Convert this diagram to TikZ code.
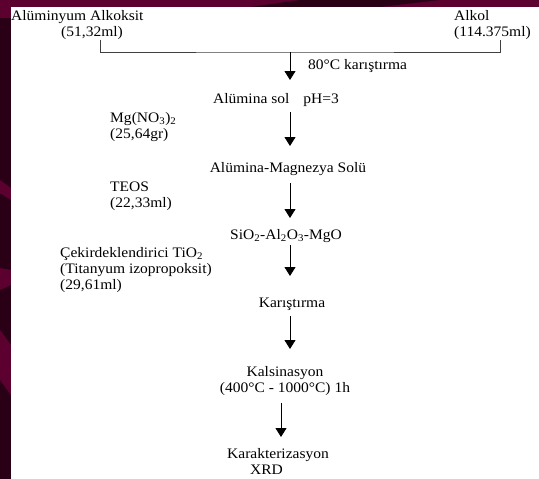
\documentclass[tikz,border=0pt]{standalone}
\usepackage{fontspec}
\setmainfont{Liberation Serif}[FakeStretch=1.07]
\usetikzlibrary{positioning,arrows.meta}

\definecolor{framedark}{HTML}{2A0017}
\definecolor{framewine}{HTML}{5C0030}

\tikzset{
  txt/.style={inner sep=0pt, font=\fontsize{14.5}{16}\selectfont},
  stage/.style={txt, anchor=north, text height=10pt, text depth=3pt},
  note/.style={txt, anchor=north west, align=left},
  flow/.style={-{Triangle[width=11pt,length=9pt]}, line width=0.8pt},
  feed/.style={line width=0.8pt, black!75}
}

\begin{document}
\begin{tikzpicture}[x=1pt, y=-1pt]
% ---- slide frame ----
\fill[framedark] (0,0) rectangle (539,479);
\fill[framewine] (0,0) rectangle (539,7);
\fill[framedark] (250,7) -- (300,0) -- (440,0) -- (380,7) -- cycle;
\fill[framewine] (0,0) rectangle (11,18);
\fill[framewine] (0,180) -- (11,188) -- (11,200) -- (0,193) -- cycle;
\fill[framewine] (0,268) -- (11,270) -- (11,285) -- (0,290) -- cycle;
\fill[framewine] (0,330) -- (11,345) -- (11,395) -- (0,380) -- cycle;
\fill[white] (11,7) rectangle (539,479);

% ---- starting materials ----
\node[note] (alk1) at (11,10) {Alüminyum Alkoksit};
\node[txt, anchor=north] (alk2) at (92,26) {(51,32ml)};
\node[note] (alc) at (454,10) {Alkol\\(114.375ml)};
\coordinate (mix) at (290,52);
\coordinate (ax) at (290,0);
\coordinate (axb) at (281,0);
\draw[feed] ([xshift=8pt]alk2.south) |- (mix) -| ([xshift=8pt]alc.south);
\node[txt, anchor=north west] (heat) at (308,59) {80°C karıştırma};

% ---- main line ----
\node[stage] (sol) at (276,93) {Alümina sol\hspace{14pt}pH=3};
\node[stage] (mgsol) at (288,162) {Alümina-Magnezya Solü};
\node[stage] (oxide) at (286,229) {SiO\textsubscript{2}-Al\textsubscript{2}O\textsubscript{3}-MgO};
\node[stage] (mix2) at (292,297) {Karıştırma};
\node[txt, anchor=north, align=center] (calc) at (285,366) {Kalsinasyon\\(400°C - 1000°C) 1h};
\node[txt, anchor=north, align=left] (xrd) at (278,448) {Karakterizasyon\\\hspace*{23pt}XRD};

% ---- additions ----
\node[note] (mgno) at (110,112) {Mg(NO\textsubscript{3})\textsubscript{2}\\(25,64gr)};
\node[note] (teos) at (110,182) {TEOS\\(22,33ml)};
\node[note] (tio) at (60,247) {Çekirdeklendirici TiO\textsubscript{2}\\(Titanyum izopropoksit)\\(29,61ml)};

% ---- arrows ----
\draw[flow, shorten >=13pt] (mix) -- (sol.north -| mix);
\draw[flow, shorten <=6pt, shorten >=16pt] (sol.south -| ax) -- (mgsol.north -| ax);
\draw[flow, shorten <=8pt, shorten >=11pt] (mgsol.south -| ax) -- (oxide.north -| ax);
\draw[flow, shorten <=3pt, shorten >=21pt] (oxide.south -| ax) -- (mix2.north -| ax);
\draw[flow, shorten <=6pt, shorten >=17pt] (mix2.south -| ax) -- (calc.north -| ax);
\draw[flow, shorten <=7pt, shorten >=11pt] (calc.south -| axb) -- (xrd.north -| axb);
\end{tikzpicture}
\end{document}
